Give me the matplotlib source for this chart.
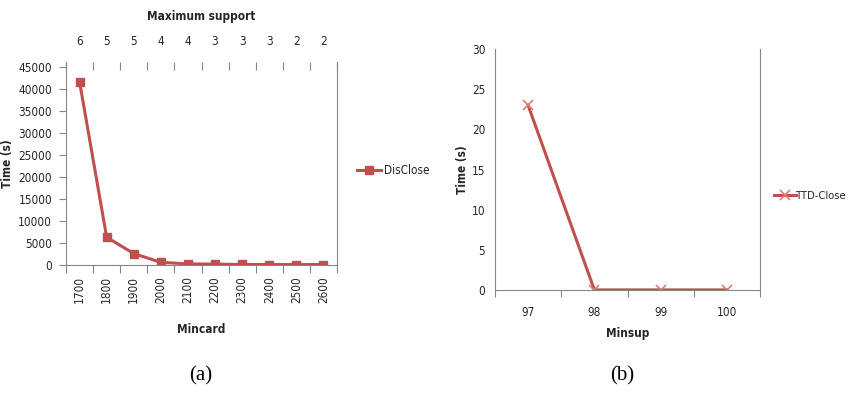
import numpy as np
import matplotlib.pyplot as plt

plt.rcParams['font.family'] = ['DejaVu Sans']
plt.rcParams['font.stretch'] = 'condensed'

# (a) data
mincard = ['1700', '1800', '1900', '2000', '2100', '2200', '2300', '2400', '2500', '2600']
max_support = ['6', '5', '5', '4', '4', '3', '3', '3', '2', '2']
disclose_time = [41600, 6300, 2600, 600, 250, 200, 120, 100, 100, 100]

# (b) data
minsup = ['97', '98', '99', '100']
ttd_time = [23, 0.05, 0.05, 0.05]

red = '#C0504D'
spine_col = '#868686'
txt = '#262626'
fs = 8.5

fig = plt.figure(figsize=(8.53, 3.94), dpi=100)

# ---- chart (a)
ax1 = fig.add_axes([0.0774, 0.3274, 0.3177, 0.5152])
xa = np.arange(len(mincard))
ax1.plot(xa, disclose_time, color=red, lw=2.2, marker='s', ms=5.5,
         mec=red, mfc=red, label='DisClose')
ax1.set_xlim(-0.5, len(mincard) - 0.5)
ax1.set_ylim(0, 46100)
ax1.set_yticks(np.arange(0, 45001, 5000))
ax1.tick_params(axis='y', length=5, color=spine_col, labelsize=fs, labelcolor=txt, pad=5)
ax1.set_xticks(np.append(xa - 0.5, len(mincard) - 0.5))
ax1.set_xticklabels([])
ax1.set_xticks(xa, minor=True)
ax1.set_xticklabels(mincard, minor=True, rotation=90)
ax1.tick_params(axis='x', which='major', length=6, color=spine_col)
ax1.tick_params(axis='x', which='minor', length=0, labelsize=fs, labelcolor=txt, pad=8)
for s in ['left', 'right', 'bottom']:
    ax1.spines[s].set_color(spine_col)
ax1.spines['top'].set_visible(False)

top = ax1.secondary_xaxis('top')
top.set_xticks(np.append(xa - 0.5, len(mincard) - 0.5))
top.set_xticklabels([])
top.set_xticks(xa, minor=True)
top.set_xticklabels(max_support, minor=True)
top.tick_params(axis='x', which='major', length=6, direction='in', color=spine_col)
top.tick_params(axis='x', which='minor', length=0, labelsize=fs, labelcolor=txt, pad=10)
top.spines['top'].set_visible(False)
top.set_xlabel('Maximum support', fontsize=fs, fontweight='bold', color=txt, labelpad=11)

ax1.set_ylabel('Time (s)', fontsize=fs, fontweight='bold', color=txt, labelpad=3)
ax1.set_xlabel('Mincard', fontsize=fs, fontweight='bold', color=txt, labelpad=14)
ax1.legend(loc='center left', bbox_to_anchor=(0.4185, 0.567), bbox_transform=fig.transFigure,
           frameon=False, fontsize=fs, handlelength=2.0, handletextpad=0.3,
           borderpad=0, borderaxespad=0, labelcolor=txt)

# ---- chart (b)
ax2 = fig.add_axes([0.5803, 0.2632, 0.3107, 0.6124])
xb = np.arange(len(minsup))
ax2.plot(xb, ttd_time, color=red, lw=2.2, marker='x', ms=7, mew=1.2,
         mec='#E07A78', label='TTD-Close')
ax2.set_xlim(-0.5, len(minsup) - 0.5)
ax2.set_ylim(0, 30)
ax2.set_yticks(np.arange(0, 31, 5))
ax2.tick_params(axis='y', length=0, labelsize=fs, labelcolor=txt, pad=7)
ax2.set_xticks(np.append(xb - 0.5, len(minsup) - 0.5))
ax2.set_xticklabels([])
ax2.set_xticks(xb, minor=True)
ax2.set_xticklabels(minsup, minor=True)
ax2.tick_params(axis='x', which='major', length=5, color=spine_col)
ax2.tick_params(axis='x', which='minor', length=0, labelsize=fs, labelcolor=txt, pad=11)
for s in ['left', 'right', 'bottom']:
    ax2.spines[s].set_color(spine_col)
ax2.spines['top'].set_visible(False)
ax2.set_ylabel('Time (s)', fontsize=fs, fontweight='bold', color=txt, labelpad=2)
ax2.set_xlabel('Minsup', fontsize=fs, fontweight='bold', color=txt, labelpad=6)
ax2.legend(loc='center left', bbox_to_anchor=(0.907, 0.503), bbox_transform=fig.transFigure,
           frameon=False, fontsize=8, handlelength=2.0, handletextpad=0.0,
           borderpad=0, borderaxespad=0, labelcolor=txt)

# panel captions
fig.text(0.235, 0.035, '(a)', fontsize=15, family='Liberation Serif', ha='center')
fig.text(0.729, 0.035, '(b)', fontsize=15, family='Liberation Serif', ha='center')

fig.savefig('out.png', dpi=100)
